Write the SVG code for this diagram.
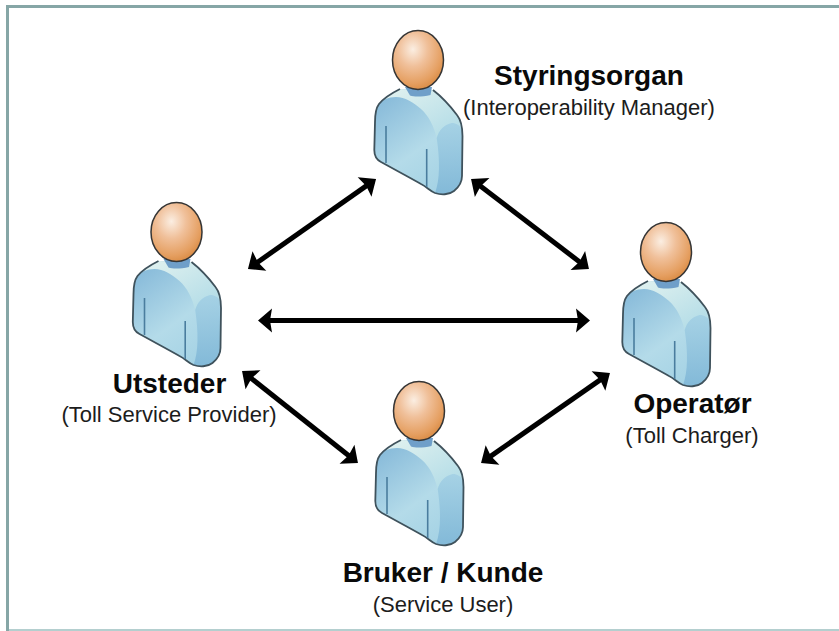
<svg xmlns="http://www.w3.org/2000/svg" width="839" height="631" viewBox="0 0 839 631">
<style>
.name{font-family:"Liberation Sans",Arial,sans-serif;font-weight:700;font-size:28px;fill:#0a0a0a;text-anchor:middle}
.role{font-family:"Liberation Sans",Arial,sans-serif;font-size:22px;fill:#1c1c1c;text-anchor:middle}
.arrow{stroke:#000;stroke-width:5;fill:none;marker-start:url(#head);marker-end:url(#head)}
.seam{stroke:#4a7d9e;stroke-width:1.6;fill:none}
</style>
<defs>
<marker id="head" markerUnits="userSpaceOnUse" markerWidth="18" markerHeight="26" viewBox="0 0 18 26" refX="8" refY="13" orient="auto-start-reverse">
<path d="M2 1L16 13L2 25L4 13Z" fill="#000"/>
</marker>
<radialGradient id="skin" cx="0.4" cy="0.32" r="0.72">
<stop offset="0" stop-color="#fbeee2"/><stop offset="0.4" stop-color="#f0c09a"/><stop offset="0.8" stop-color="#e59f61"/><stop offset="1" stop-color="#d98a42"/>
</radialGradient>
<linearGradient id="torso" x1="0.1" y1="0" x2="0.7" y2="1">
<stop offset="0" stop-color="#83b7d8"/><stop offset="0.6" stop-color="#b4dbe9"/><stop offset="1" stop-color="#a4d2e4"/>
</linearGradient>
<linearGradient id="side" x1="0" y1="0" x2="0" y2="1">
<stop offset="0" stop-color="#a3d0e4"/><stop offset="1" stop-color="#7db5d6"/>
</linearGradient>
<linearGradient id="collar" x1="0" y1="0" x2="1" y2="1">
<stop offset="0" stop-color="#e4f3f0"/><stop offset="1" stop-color="#aedae6"/>
</linearGradient>
<g id="person">
<path d="M-18 29C-26 33-35 39-39 44C-42 48-43 54-43 62L-43.700 90C-43.700 97-41 100-37 102C-24 109-8 118 3 124C9 127 12 131 17 133C23 135 31 135 36 131C41 127 44 123 44 116L44.500 76C44.500 67 43 60 39 55C33 47 24 37 15 30Z" fill="url(#torso)"/>
<path d="M-18 29C-26 33-35 39-39 44C-36 40-30 37-22 37C-13 37-5 42 3 49C11 56 16 67 18.700 78C21 70 26 65 33.700 63C38 63 42 65 44 70C43 62 42 59 39 55C33 47 24 37 15 30Z" fill="url(#collar)"/>
<path d="M18.700 78C21 70 26 65 33.700 63C38 63 42 65 44 70L44.500 76L44 116C44 123 41 127 36 131C31 135 23 135 17 133C22 120 22 100 18.700 78Z" fill="url(#side)" opacity="0.85"/>
<path d="M-18 29C-26 33-35 39-39 44C-42 48-43 54-43 62L-43.700 90C-43.700 97-41 100-37 102C-24 109-8 118 3 124C9 127 12 131 17 133C23 135 31 135 36 131C41 127 44 123 44 116L44.500 76C44.500 67 43 60 39 55C33 47 24 37 15 30" fill="none" stroke="#3f525c" stroke-width="1.800"/>
<path d="M-13 27L14 27L12.500 35C4 37-4 37-8 35.500Z" fill="#6f9fc9"/>
<path class="seam" d="M-32 66L-32 103"/>
<path class="seam" d="M8.700 89L8.700 127"/>
<ellipse cx="0" cy="0" rx="25.500" ry="29.500" fill="url(#skin)" stroke="#353535" stroke-width="1.500"/>
</g>
</defs>
<rect width="839" height="631" fill="#fff"/>
<path d="M7.500 631V6.500H839" fill="none" stroke="#86a6a6" stroke-width="3"/>
<path d="M9 630H839" stroke="#b4cfcf" stroke-width="2"/>
<g id="connectors">
<line class="arrow" x1="254.500" y1="264.400" x2="369.500" y2="183.600"/>
<line class="arrow" x1="477.400" y1="183.800" x2="582.600" y2="264.200"/>
<line class="arrow" x1="266" y1="320.500" x2="582" y2="320.500"/>
<line class="arrow" x1="248.300" y1="376" x2="351.700" y2="458"/>
<line class="arrow" x1="487.600" y1="458.400" x2="603.400" y2="377.600"/>
</g>
<g id="node-styringsorgan">
<use href="#person" x="418" y="60"/>
<text class="name" x="589" y="85">Styringsorgan</text>
<text class="role" x="589" y="115">(Interoperability Manager)</text>
</g>
<g id="node-utsteder">
<use href="#person" x="176.500" y="232"/>
<text class="name" x="169.500" y="393">Utsteder</text>
<text class="role" x="169" y="422">(Toll Service Provider)</text>
</g>
<g id="node-operator">
<use href="#person" x="666" y="252"/>
<text class="name" x="692.500" y="413">Operatør</text>
<text class="role" x="692" y="443">(Toll Charger)</text>
</g>
<g id="node-bruker">
<use href="#person" x="419" y="411"/>
<text class="name" x="443" y="582">Bruker / Kunde</text>
<text class="role" x="443" y="612">(Service User)</text>
</g>
</svg>
